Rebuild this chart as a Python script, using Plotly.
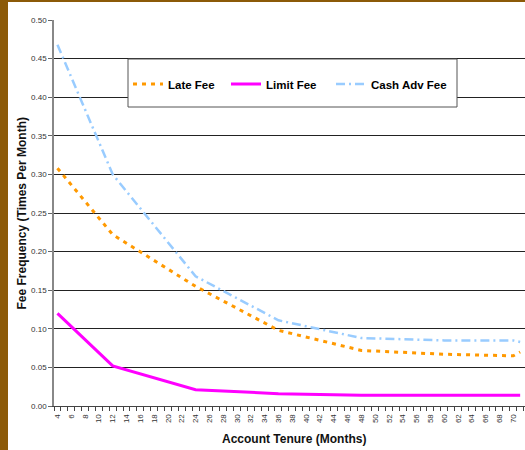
import plotly.graph_objects as go

# ---- data ----
months = [4, 12, 24, 36, 48, 60, 70, 71]
late_fee = [0.308, 0.222, 0.155, 0.098, 0.072, 0.067, 0.065, 0.070]
limit_fee = [0.120, 0.052, 0.021, 0.016, 0.014, 0.014, 0.014, 0.014]
cash_adv_fee = [0.468, 0.300, 0.168, 0.111, 0.088, 0.085, 0.085, 0.083]
series_names = ["Late Fee", "Limit Fee", "Cash Adv Fee"]
x_tick_values = list(range(4, 71, 2))
x_tick_labels = [str(v) for v in x_tick_values]
y_tick_values = [0.0, 0.05, 0.10, 0.15, 0.20, 0.25, 0.30, 0.35, 0.40, 0.45, 0.50]
x_title = "Account Tenure (Months)"
y_title = "Fee Frequency (Times Per Month)"

FONT = "Arial, Liberation Sans, sans-serif"
W, H = 525, 450
ML, MR, MT, MB = 54, 0, 20, 44
PW, PH = W - ML - MR, H - MT - MB
PX_PER_MONTH = 6.906
x_range = [3.5, 3.5 + PW / PX_PER_MONTH]


def px_to_paper_x(px):
    return (px - ML) / PW


def px_to_paper_y(py):
    return 1 - (py - MT) / PH


fig = go.Figure()
fig.add_trace(go.Scatter(x=months, y=late_fee, name=series_names[0], mode="lines",
                         legend="legend",
                         line=dict(color="#FF9900", width=3, dash="4px,5px")))
fig.add_trace(go.Scatter(x=months, y=limit_fee, name=series_names[1], mode="lines",
                         legend="legend2",
                         line=dict(color="#FF00FF", width=3)))
fig.add_trace(go.Scatter(x=months, y=cash_adv_fee, name=series_names[2], mode="lines",
                         legend="legend3",
                         line=dict(color="#99CCFF", width=2.5, dash="9px,4px,2px,4px")))

shapes = [
    # wood strip at left and top edge
    dict(type="rect", xref="paper", yref="paper",
         x0=px_to_paper_x(0), x1=px_to_paper_x(8), y0=px_to_paper_y(450), y1=px_to_paper_y(0),
         fillcolor="#8C5A08", line=dict(width=0), layer="above"),
    dict(type="rect", xref="paper", yref="paper",
         x0=px_to_paper_x(0), x1=px_to_paper_x(525), y0=px_to_paper_y(2), y1=px_to_paper_y(0),
         fillcolor="#8C5A08", line=dict(width=0), layer="above"),
    # legend box
    dict(type="rect", xref="paper", yref="paper",
         x0=px_to_paper_x(128), x1=px_to_paper_x(457), y0=px_to_paper_y(107), y1=px_to_paper_y(59),
         fillcolor="white", line=dict(color="#555555", width=1), layer="above"),
]

annotations = [
    dict(text=f"<b>{x_title}</b>", xref="paper", yref="paper",
         x=px_to_paper_x(294), y=px_to_paper_y(439), xanchor="center", yanchor="middle",
         showarrow=False, font=dict(family=FONT, size=12, color="#111")),
    dict(text=f"<b>{y_title}</b>", xref="paper", yref="paper",
         x=px_to_paper_x(21.5), y=0.5, xanchor="center", yanchor="middle", textangle=-90,
         showarrow=False, font=dict(family=FONT, size=12, color="#111")),
]

legend_font = dict(family=FONT, size=11.5, color="#000", weight="bold")


def legend_at(text_px):
    return dict(orientation="h", x=px_to_paper_x(text_px - 40), y=px_to_paper_y(84),
                xanchor="left", yanchor="middle", bgcolor="rgba(0,0,0,0)", borderwidth=0,
                itemwidth=30, font=legend_font)


fig.update_layout(
    width=W, height=H,
    margin=dict(l=ML, r=MR, t=MT, b=MB),
    paper_bgcolor="white", plot_bgcolor="white",
    font=dict(family=FONT, color="#333"),
    shapes=shapes,
    annotations=annotations,
    showlegend=True,
    legend=legend_at(168),
    legend2=legend_at(266),
    legend3=legend_at(371),
    xaxis=dict(range=x_range, tickmode="array", tickvals=x_tick_values, ticktext=x_tick_labels,
               tickangle=-90, ticks="outside", ticklen=4, tickcolor="rgba(0,0,0,0)",
               tickfont=dict(family=FONT, size=8, color="#333"),
               showgrid=False, zeroline=False,
               showline=True, linecolor="#444", linewidth=1,
               minor=dict(tickvals=[3.5 + i for i in range(0, 69)], ticks="outside",
                          ticklen=4, tickcolor="#444", showgrid=False)),
    yaxis=dict(range=[0, 0.5], tickmode="array", tickvals=y_tick_values, tickformat=".2f",
               ticks="outside", ticklen=4, tickcolor="#666",
               tickfont=dict(family=FONT, size=8, color="#333"),
               showgrid=True, gridcolor="#222222", gridwidth=1, zeroline=False,
               showline=True, linecolor="#888", linewidth=1.5),
)

fig.write_html("out.html", config={"displayModeBar": False},
               post_script="document.body.style.margin='0px';")
